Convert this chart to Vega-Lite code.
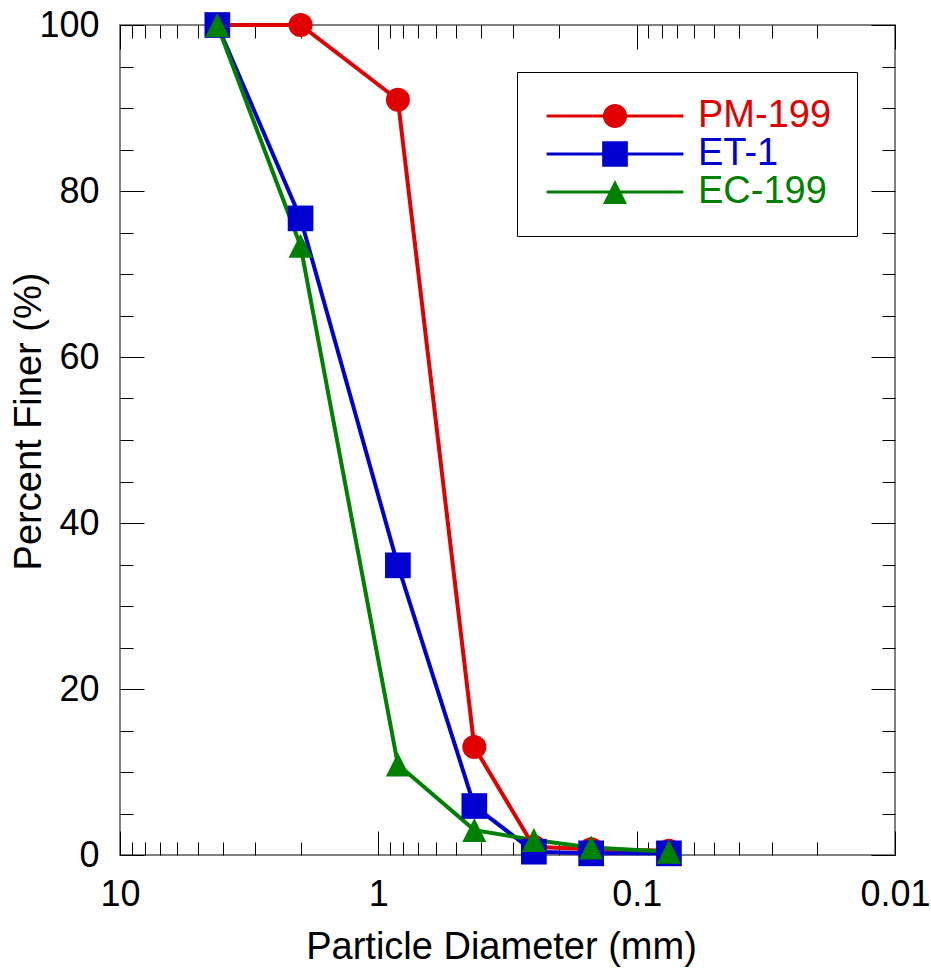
{
  "$schema": "https://vega.github.io/schema/vega-lite/v6.json",
  "autosize": {"type": "none"},
  "padding": {"left": 120, "top": 25, "right": 36, "bottom": 116},
  "width": 775,
  "height": 830,
  "background": "white",
  "data": {
    "values": [
      {"series": "PM-199", "size_mm": 4.2, "finer": 100},
      {"series": "PM-199", "size_mm": 2.0, "finer": 100},
      {"series": "PM-199", "size_mm": 0.84, "finer": 91.0},
      {"series": "PM-199", "size_mm": 0.425, "finer": 13.0},
      {"series": "PM-199", "size_mm": 0.25, "finer": 1.0},
      {"series": "PM-199", "size_mm": 0.15, "finer": 0.7},
      {"series": "PM-199", "size_mm": 0.075, "finer": 0.5},
      {"series": "ET-1", "size_mm": 4.2, "finer": 100},
      {"series": "ET-1", "size_mm": 2.0, "finer": 76.7},
      {"series": "ET-1", "size_mm": 0.84, "finer": 34.9},
      {"series": "ET-1", "size_mm": 0.425, "finer": 5.9},
      {"series": "ET-1", "size_mm": 0.25, "finer": 0.4},
      {"series": "ET-1", "size_mm": 0.15, "finer": 0.2},
      {"series": "ET-1", "size_mm": 0.075, "finer": 0.2},
      {"series": "EC-199", "size_mm": 4.2, "finer": 100},
      {"series": "EC-199", "size_mm": 2.0, "finer": 73.4},
      {"series": "EC-199", "size_mm": 0.84, "finer": 10.9},
      {"series": "EC-199", "size_mm": 0.425, "finer": 3.0},
      {"series": "EC-199", "size_mm": 0.25, "finer": 1.8},
      {"series": "EC-199", "size_mm": 0.15, "finer": 0.9},
      {"series": "EC-199", "size_mm": 0.075, "finer": 0.4}
    ]
  },
  "resolve": {"axis": {"x": "independent", "y": "independent"}},
  "layer": [
    {
      "mark": {"type": "line", "strokeWidth": 4},
      "encoding": {
        "x": {"field": "size_mm", "type": "quantitative",
          "scale": {"type": "log", "domain": [0.01, 10], "reverse": true, "nice": false},
          "axis": {"orient": "bottom", "values": [10, 1, 0.1, 0.01], "format": "~g", "ticks": false,
            "labelFontSize": 36, "labelPadding": 22, "title": "Particle Diameter (mm)",
            "titleFontSize": 38, "titlePadding": 16, "titleX": 381}},
        "y": {"field": "finer", "type": "quantitative",
          "scale": {"domain": [0, 100], "nice": false, "zero": false},
          "axis": {"orient": "left", "values": [0, 20, 40, 60, 80, 100], "ticks": false,
            "labelFontSize": 36, "labelPadding": 21, "title": "Percent Finer (%)",
            "titleFontSize": 38, "titlePadding": -10, "titleY": 396}},
        "detail": {"field": "series", "type": "nominal"},
        "color": {"condition": [
            {"test": "datum.series === 'PM-199'", "value": "#e00000"},
            {"test": "datum.series === 'ET-1'", "value": "#0000d0"}
          ], "value": "#008000"},
        "order": {"field": "size_mm", "type": "quantitative", "sort": "descending"}
      }
    },
    {
      "mark": {"type": "point", "filled": true, "opacity": 1},
      "encoding": {
        "x": {"field": "size_mm", "type": "quantitative",
          "scale": {"type": "log", "domain": [0.01, 10], "reverse": true, "nice": false},
          "axis": {"orient": "bottom", "values": [10, 1, 0.1, 0.01], "labels": false, "tickSize": -24, "title": null}},
        "y": {"field": "finer", "type": "quantitative",
          "scale": {"domain": [0, 100], "nice": false, "zero": false},
          "axis": {"orient": "left", "values": [0, 20, 40, 60, 80, 100], "labels": false, "tickSize": -24, "title": null}},
        "color": {"condition": [
            {"test": "datum.series === 'PM-199'", "value": "#e00000"},
            {"test": "datum.series === 'ET-1'", "value": "#0000d0"}
          ], "value": "#008000"},
        "shape": {"condition": [
            {"test": "datum.series === 'PM-199'", "value": "circle"},
            {"test": "datum.series === 'ET-1'", "value": "square"}
          ], "value": "M0,-1L1,1H-1Z"},
        "size": {"condition": [
            {"test": "datum.series === 'ET-1'", "value": 660}
          ], "value": 576}
      }
    },
    {
      "mark": {"type": "point", "opacity": 0},
      "encoding": {
        "x": {"field": "size_mm", "type": "quantitative",
          "scale": {"type": "log", "domain": [0.01, 10], "reverse": true, "nice": false},
          "axis": {"orient": "bottom", "values": [9, 8, 7, 6, 5, 4, 3, 2, 0.9, 0.8, 0.7, 0.6, 0.5, 0.4, 0.3, 0.2, 0.09, 0.08, 0.07, 0.06, 0.05, 0.04, 0.03, 0.02], "labels": false, "tickSize": -13, "title": null}},
        "y": {"field": "finer", "type": "quantitative",
          "scale": {"domain": [0, 100], "nice": false, "zero": false},
          "axis": {"orient": "left", "values": [5, 10, 15, 25, 30, 35, 45, 50, 55, 65, 70, 75, 85, 90, 95], "labels": false, "tickSize": -13, "title": null}}
      }
    },
    {
      "mark": {"type": "point", "opacity": 0},
      "encoding": {
        "x": {"field": "size_mm", "type": "quantitative",
          "scale": {"type": "log", "domain": [0.01, 10], "reverse": true, "nice": false},
          "axis": {"orient": "top", "values": [10, 1, 0.1, 0.01], "labels": false, "tickSize": -24, "title": null}},
        "y": {"field": "finer", "type": "quantitative",
          "scale": {"domain": [0, 100], "nice": false, "zero": false},
          "axis": {"orient": "right", "values": [0, 20, 40, 60, 80, 100], "labels": false, "tickSize": -24, "title": null}}
      }
    },
    {
      "mark": {"type": "point", "filled": true, "opacity": 0},
      "encoding": {
        "x": {"field": "size_mm", "type": "quantitative",
          "scale": {"type": "log", "domain": [0.01, 10], "reverse": true, "nice": false},
          "axis": {"orient": "top", "values": [9, 8, 7, 6, 5, 4, 3, 2, 0.9, 0.8, 0.7, 0.6, 0.5, 0.4, 0.3, 0.2, 0.09, 0.08, 0.07, 0.06, 0.05, 0.04, 0.03, 0.02], "labels": false, "tickSize": -13, "title": null}},
        "y": {"field": "finer", "type": "quantitative",
          "scale": {"domain": [0, 100], "nice": false, "zero": false},
          "axis": {"orient": "right", "values": [5, 10, 15, 25, 30, 35, 45, 50, 55, 65, 70, 75, 85, 90, 95], "labels": false, "tickSize": -13, "title": null}},
        "color": {"field": "series", "type": "nominal",
          "scale": {"domain": ["PM-199", "ET-1", "EC-199"], "range": ["#e00000", "#0000d0", "#008000"]},
          "legend": {"title": null, "orient": "none", "legendX": 397, "legendY": 47,
            "padding": 25, "strokeColor": "black", "fillColor": "white",
            "labelFontSize": 38, "labelFont": "Liberation Sans",
            "symbolSize": 576, "symbolOffset": 54, "labelOffset": 64,
            "symbolStrokeWidth": 0, "symbolOpacity": 1, "rowPadding": -3, "labelLimit": 300,
            "encode": {"labels": {"update": {"fill": {"scale": "color", "field": "value"}}}}}},
        "shape": {"field": "series", "type": "nominal",
          "scale": {"domain": ["PM-199", "ET-1", "EC-199"], "range": [
            "M-5.7,-0.125H5.7V0.125H-5.7ZM1,0A1,1,0,1,1,-1,0A1,1,0,1,1,1,0Z",
            "M-5.7,-0.125H5.7V0.125H-5.7ZM-1.07,-1.07H1.07V1.07H-1.07Z",
            "M-5.7,-0.125H5.7V0.125H-5.7ZM0,-1L1,1H-1Z"]},
          "legend": {"title": null}}
      }
    }
  ],
  "config": {
    "font": "Liberation Sans",
    "view": {"stroke": "#808080", "strokeWidth": 2},
    "axis": {"grid": false, "domain": false, "tickColor": "black", "tickWidth": 1,
      "labelColor": "black", "titleColor": "black", "labelFont": "Liberation Sans",
      "titleFont": "Liberation Sans", "titleFontWeight": "normal",
      "labelFlush": false, "labelOverlap": false, "labelBound": false}
  }
}
